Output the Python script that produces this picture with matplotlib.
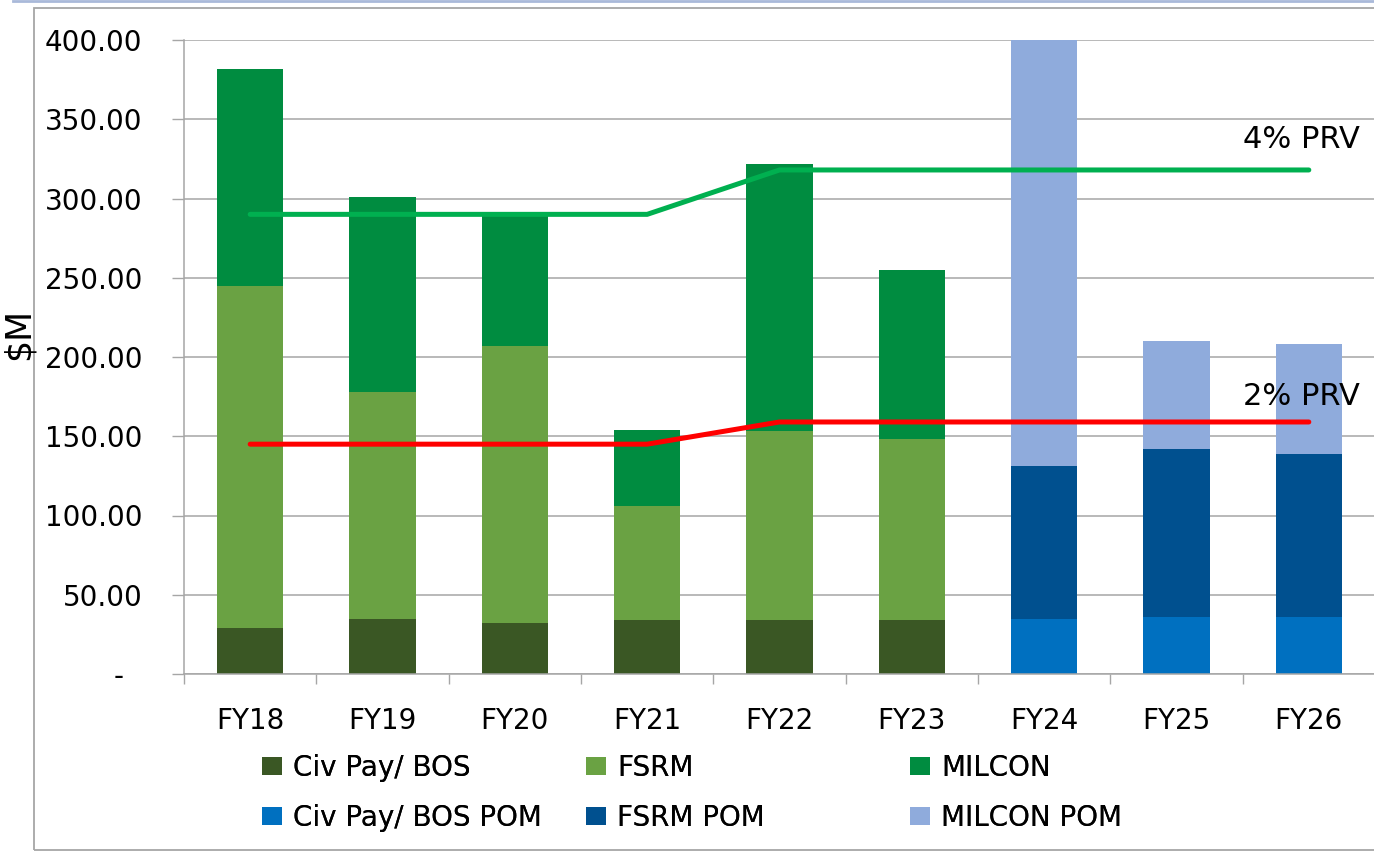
import matplotlib
matplotlib.use("Agg")
import matplotlib.pyplot as plt
from matplotlib.patches import Rectangle, Patch
from matplotlib.lines import Line2D
import numpy as np

plt.rcParams['font.family'] = ['DejaVu Sans']

years = ["FY18", "FY19", "FY20", "FY21", "FY22", "FY23", "FY24", "FY25", "FY26"]
civ_pay = [29, 35, 32, 34, 34, 34, 0, 0, 0]
fsrm = [216, 143, 175, 72, 119, 114, 0, 0, 0]
milcon = [137, 123, 84, 48, 169, 107, 0, 0, 0]
civ_pay_pom = [0, 0, 0, 0, 0, 0, 35, 36, 36]
fsrm_pom = [0, 0, 0, 0, 0, 0, 96, 106, 103]
milcon_pom = [0, 0, 0, 0, 0, 0, 275, 68, 69]
prv4 = [290, 290, 290, 290, 318, 318, 318, 318, 318]
prv2 = [145, 145, 145, 145, 159, 159, 159, 159, 159]

series = [
    ("Civ Pay/ BOS", civ_pay, "#3A5724"),
    ("FSRM", fsrm, "#6AA243"),
    ("MILCON", milcon, "#008C40"),
    ("Civ Pay/ BOS POM", civ_pay_pom, "#0070C0"),
    ("FSRM POM", fsrm_pom, "#00508F"),
    ("MILCON POM", milcon_pom, "#8FABDC"),
]

W, H = 1374, 857
fig = plt.figure(figsize=(W / 100, H / 100), dpi=100)

# outer frame and top line
fig.patches.append(Rectangle((34 / W, 1 - 850 / H), 1.2, (850 - 8) / H,
                             transform=fig.transFigure, fill=False,
                             edgecolor="#A6A6A6", linewidth=1.3))
fig.lines.append(Line2D([13 / W, 1], [1 - 0.8 / H, 1 - 0.8 / H],
                        transform=fig.transFigure, color="#A9B9D9", linewidth=2))

ax = fig.add_axes([184 / W, 1 - 674 / H, 1191 / W, (674 - 40) / H])
x = np.arange(len(years))
bottom = np.zeros(len(years))
handles = []
for name, vals, col in series:
    v = np.array(vals, dtype=float)
    ax.bar(x, v, width=0.5, bottom=bottom, color=col, edgecolor="none", zorder=2)
    bottom += v
    handles.append(Patch(facecolor=col, edgecolor="none", label=name))

ax.plot(x, prv4, color="#00B050", linewidth=3.6, solid_capstyle="round", zorder=3)
ax.plot(x, prv2, color="#FF0000", linewidth=3.6, solid_capstyle="round", zorder=3)
ax.text(7.5, 332, "4% PRV", fontsize=22, va="baseline", ha="left")
ax.text(7.5, 169.5, "2% PRV", fontsize=22, va="baseline", ha="left")

ax.set_xlim(-0.5, 8.5)
ax.set_ylim(0, 400)
yt = np.arange(0, 401, 50)
ax.set_yticks(yt)
ax.set_yticklabels(["-  "] + [f"{v:.2f}" for v in yt[1:]])
ax.set_xticks(x)
ax.set_xticklabels(years)
ax.set_xticks(np.arange(-0.5, 9, 1), minor=True)
ax.tick_params(axis="y", length=8.6, width=1, color="#A6A6A6", pad=21.5, labelsize=20)
ax.tick_params(axis="x", which="major", length=0, pad=24, labelsize=20)
ax.tick_params(axis="x", which="minor", length=7.2, width=1, color="#A6A6A6")
ax.grid(axis="y", color="#A6A6A6", linewidth=1.1, zorder=0)
ax.set_axisbelow(True)
for s in ["top", "right"]:
    ax.spines[s].set_visible(False)
for s in ["left", "bottom"]:
    ax.spines[s].set_color("#A6A6A6")
    ax.spines[s].set_linewidth(1.1)

fig.text(19 / W, 1 - 334 / H, "$M", rotation=90, fontsize=25, ha="center", va="center")

# legends: three columns
cols = [(262, [0, 3]), (586, [1, 4]), (910, [2, 5])]
for xpix, idx in cols:
    leg = fig.legend(handles=[handles[i] for i in idx], loc="upper left",
                     bbox_to_anchor=(xpix / W, 1 - 754 / H), frameon=False,
                     fontsize=20, handlelength=0.72, handleheight=0.6,
                     handletextpad=0.4, labelspacing=0.78, borderpad=0,
                     borderaxespad=0)
    fig.add_artist(leg)

fig.savefig("out.png", dpi=100)
